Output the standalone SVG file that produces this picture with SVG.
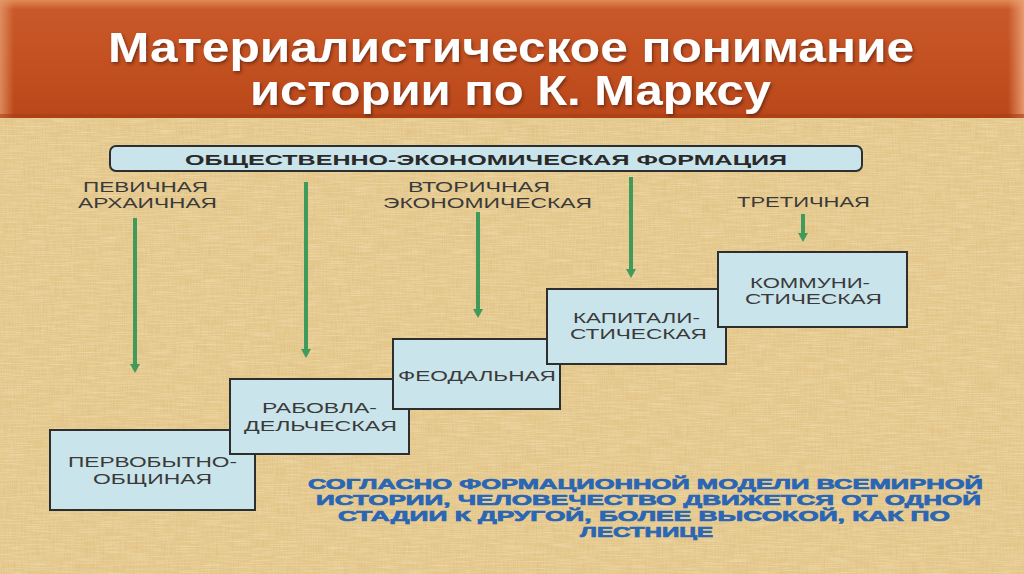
<svg xmlns="http://www.w3.org/2000/svg" width="1024" height="574" viewBox="0 0 1024 574">
<defs>
<linearGradient id="ban" x1="0" y1="0" x2="0" y2="1">
<stop offset="0" stop-color="#e08a55"/>
<stop offset="0.08" stop-color="#c9582a"/>
<stop offset="0.6" stop-color="#c24f1f"/>
<stop offset="1" stop-color="#b9471a"/>
</linearGradient>
<linearGradient id="bl" x1="0" y1="0" x2="1" y2="0">
<stop offset="0" stop-color="#e49a6c" stop-opacity="0.8"/>
<stop offset="1" stop-color="#e49a6c" stop-opacity="0"/>
</linearGradient>
<linearGradient id="br" x1="1" y1="0" x2="0" y2="0">
<stop offset="0" stop-color="#e9a277" stop-opacity="0.9"/>
<stop offset="1" stop-color="#e9a277" stop-opacity="0"/>
</linearGradient>
<filter id="tex" x="0" y="0" width="100%" height="100%">
<feTurbulence type="fractalNoise" baseFrequency="0.9 0.05" numOctaves="2" seed="3"/>
<feColorMatrix type="matrix" values="0 0 0 0 0.55  0 0 0 0 0.42  0 0 0 0 0.2  0 0 0 1.2 -0.45"/>
</filter>
<filter id="tex2" x="0" y="0" width="100%" height="100%">
<feTurbulence type="fractalNoise" baseFrequency="0.04 0.9" numOctaves="2" seed="7"/>
<feColorMatrix type="matrix" values="0 0 0 0 0.98  0 0 0 0 0.9  0 0 0 0 0.7  0 0 0 1.4 -0.55"/>
</filter>
<filter id="sh" x="-5%" y="-20%" width="110%" height="140%">
<feDropShadow dx="1.5" dy="2" stdDeviation="1.5" flood-color="#5a2008" flood-opacity="0.7"/>
</filter>
<marker id="ah" markerUnits="userSpaceOnUse" markerWidth="12" markerHeight="10" refX="0" refY="5" orient="auto">
<path d="M0,0 L9,5 L0,10 Z" fill="#3f9a5b"/>
</marker>
<style>
.box{fill:#c9e4ea;stroke:#2e2e2e;stroke-width:2}
.lbl{font-family:"Liberation Sans",Arial,sans-serif;font-size:15px;fill:#3a3a3a}
.conn{stroke:#3f9a5b;stroke-width:4;fill:none}
.blue{font-family:"Liberation Sans",Arial,sans-serif;font-size:15px;font-weight:bold;fill:#2a66b4;stroke:#2a66b4;stroke-width:0.7}
.title{font-family:"Liberation Sans",Arial,sans-serif;font-size:43px;font-weight:bold;fill:#ffffff}
</style>
</defs>
<rect x="0" y="0" width="1024" height="574" fill="#e6c98c"/>
<rect x="0" y="0" width="1024" height="574" filter="url(#tex)" opacity="0.45"/>
<rect x="0" y="0" width="1024" height="574" filter="url(#tex2)" opacity="0.5"/>

<g id="banner">
<rect x="0" y="0" width="1024" height="118" fill="url(#ban)"/>
<rect x="0" y="0" width="14" height="118" fill="url(#bl)"/>
<rect x="1008" y="0" width="16" height="118" fill="url(#br)"/>
<rect x="0" y="114" width="1024" height="4" fill="#a83e14" opacity="0.6"/>
<g filter="url(#sh)">
<text class="title" x="108" y="62" textLength="806" lengthAdjust="spacingAndGlyphs">Материалистическое понимание</text>
<text class="title" x="250" y="105" textLength="521" lengthAdjust="spacingAndGlyphs">истории по К. Марксу</text>
</g>
</g>

<g id="header">
<rect x="110" y="146" width="752" height="25" rx="6" ry="6" class="box"/>
<text x="185" y="165" font-family="Liberation Sans, Arial, sans-serif" font-size="15" font-weight="bold" fill="#2a2a2a" textLength="602" lengthAdjust="spacingAndGlyphs">ОБЩЕСТВЕННО-ЭКОНОМИЧЕСКАЯ ФОРМАЦИЯ</text>
</g>

<g id="connectors">
<line class="conn" x1="135" y1="218" x2="135" y2="364" marker-end="url(#ah)"/>
<line class="conn" x1="306" y1="182" x2="306" y2="349" marker-end="url(#ah)"/>
<line class="conn" x1="478" y1="212" x2="478" y2="309" marker-end="url(#ah)"/>
<line class="conn" x1="631" y1="177" x2="631" y2="269" marker-end="url(#ah)"/>
<line class="conn" x1="803" y1="214" x2="803" y2="233" marker-end="url(#ah)"/>
</g>

<g id="label-primary">
<text class="lbl" x="83" y="192" textLength="125" lengthAdjust="spacingAndGlyphs">ПЕВИЧНАЯ</text>
<text class="lbl" x="78" y="208" textLength="139" lengthAdjust="spacingAndGlyphs">АРХАИЧНАЯ</text>
</g>
<g id="label-secondary">
<text class="lbl" x="408" y="192" textLength="142" lengthAdjust="spacingAndGlyphs">ВТОРИЧНАЯ</text>
<text class="lbl" x="383" y="208" textLength="209" lengthAdjust="spacingAndGlyphs">ЭКОНОМИЧЕСКАЯ</text>
</g>
<g id="label-tertiary">
<text class="lbl" x="737" y="207" textLength="133" lengthAdjust="spacingAndGlyphs">ТРЕТИЧНАЯ</text>
</g>

<g id="node-primitive">
<rect x="50" y="430" width="205" height="80" class="box"/>
<text class="lbl" x="68" y="467" textLength="169" lengthAdjust="spacingAndGlyphs">ПЕРВОБЫТНО-</text>
<text class="lbl" x="93" y="484" textLength="119" lengthAdjust="spacingAndGlyphs">ОБЩИНАЯ</text>
</g>
<g id="node-slave">
<rect x="230" y="379" width="179" height="75" class="box"/>
<text class="lbl" x="262" y="413" textLength="115" lengthAdjust="spacingAndGlyphs">РАБОВЛА-</text>
<text class="lbl" x="244" y="431" textLength="153" lengthAdjust="spacingAndGlyphs">ДЕЛЬЧЕСКАЯ</text>
</g>
<g id="node-feudal">
<rect x="393" y="339" width="167" height="70" class="box"/>
<text class="lbl" x="398" y="381" textLength="158" lengthAdjust="spacingAndGlyphs">ФЕОДАЛЬНАЯ</text>
</g>
<g id="node-capitalist">
<rect x="547" y="289" width="179" height="75" class="box"/>
<text class="lbl" x="573" y="323" textLength="127" lengthAdjust="spacingAndGlyphs">КАПИТАЛИ-</text>
<text class="lbl" x="570" y="339" textLength="137" lengthAdjust="spacingAndGlyphs">СТИЧЕСКАЯ</text>
</g>
<g id="node-communist">
<rect x="718" y="252" width="189" height="75" class="box"/>
<text class="lbl" x="750" y="288" textLength="120" lengthAdjust="spacingAndGlyphs">КОММУНИ-</text>
<text class="lbl" x="745" y="304" textLength="137" lengthAdjust="spacingAndGlyphs">СТИЧЕСКАЯ</text>
</g>

<g id="note">
<text class="blue" x="308" y="489" textLength="675" lengthAdjust="spacingAndGlyphs">СОГЛАСНО ФОРМАЦИОННОЙ МОДЕЛИ ВСЕМИРНОЙ</text>
<text class="blue" x="316" y="505" textLength="665" lengthAdjust="spacingAndGlyphs">ИСТОРИИ, ЧЕЛОВЕЧЕСТВО ДВИЖЕТСЯ ОТ ОДНОЙ</text>
<text class="blue" x="338" y="521" textLength="612" lengthAdjust="spacingAndGlyphs">СТАДИИ К ДРУГОЙ, БОЛЕЕ ВЫСОКОЙ, КАК ПО</text>
<text class="blue" x="580" y="537" textLength="133" lengthAdjust="spacingAndGlyphs">ЛЕСТНИЦЕ</text>
</g>
</svg>
